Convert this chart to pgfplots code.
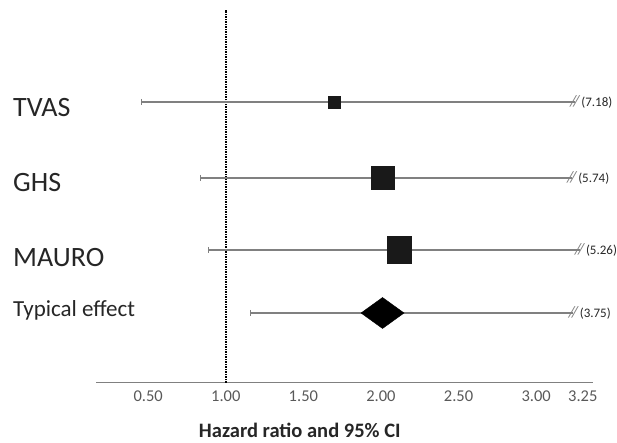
\documentclass[border=0pt]{standalone}
\usepackage{pgfplots}
\pgfplotsset{compat=1.18}
\usepackage{fontspec}
\setmainfont{Carlito}
\definecolor{tickgray}{HTML}{595959}
\definecolor{linegray}{HTML}{808080}
\definecolor{txt}{HTML}{262626}
\begin{document}
\begin{tikzpicture}[x=1pt,y=1pt]
\useasboundingbox (0,0) rectangle (617,443);
\begin{axis}[
  at={(96pt,60pt)}, anchor=south west,
  scale only axis, width=497pt, height=373pt,
  xmin=0.164, xmax=3.366, ymin=0, ymax=373,
  axis x line*=bottom, axis y line*=left,
  y axis line style={draw=none},
  x axis line style={draw=linegray, line width=1pt},
  xtick={0.5,1,1.5,2,2.5,3,3.30},
  xticklabels={0.50,1.00,1.50,2.00,2.50,3.00,3.25},
  xtick style={draw=none}, ytick style={draw=none},
  xticklabel style={font=\fontsize{16.5}{16.5}\selectfont, text=tickgray, yshift=-4pt},
  ytick={266,191,116,66},
  yticklabels={{\fontsize{28}{28}\selectfont TVAS},{\fontsize{28}{28}\selectfont GHS},{\fontsize{28}{28}\selectfont MAURO},{\fontsize{23}{23}\selectfont Typical effect}},
  yticklabel style={anchor=base west, inner sep=0pt, xshift=-83pt, text=txt},
  xlabel={Hazard ratio and 95\% CI},
  xlabel style={font=\bfseries\fontsize{20.5}{20.5}\selectfont, text=txt, at={(axis description cs:0.41,-0.147)}, anchor=base},
  clip=false,
  /pgf/number format/assume math mode=true,
]
\addplot[black, densely dotted, line width=1.5pt] coordinates {(1,0) (1,373)};
\addplot[linegray, line width=1.2pt] coordinates {(0.454,281) (3.25,281)};
\addplot[linegray, line width=1.2pt] coordinates {(0.84,205) (3.23,205)};
\addplot[linegray, line width=1.2pt] coordinates {(0.89,133) (3.28,133)};
\addplot[linegray, line width=1.2pt] coordinates {(1.16,70) (3.24,70)};
\addplot[linegray, only marks, mark=|, mark size=3pt, mark options={line width=1pt}] coordinates {(0.454,281) (0.84,205) (0.89,133) (1.16,70)};
\addplot[only marks, mark=square*, mark size=6pt, color=black!90] coordinates {(1.70,281)};
\addplot[only marks, mark=square*, mark size=11.3pt, color=black!90] coordinates {(2.01,205)};
\addplot[only marks, mark=square*, mark size=13.5pt, mark options={xscale=0.89}, color=black!90] coordinates {(2.12,133)};
\addplot[only marks, mark=diamond*, mark size=15.5pt, mark options={xscale=1.85}, color=black] coordinates {(2.01,70)};
\addplot[draw=none, nodes near coords={\textcolor{linegray}{\fontsize{16}{16}\selectfont\textit{/\kern-3pt/}}\kern1pt\pgfplotspointmeta}, point meta=explicit symbolic,
  nodes near coords style={anchor=west, inner sep=0pt, xshift=-5pt, font=\fontsize{13}{13}\selectfont, text=txt}]
  coordinates {(3.25,281) [(7.18)] (3.23,205) [(5.74)] (3.28,133) [(5.26)] (3.24,70) [(3.75)]};
\end{axis}
\end{tikzpicture}
\end{document}
